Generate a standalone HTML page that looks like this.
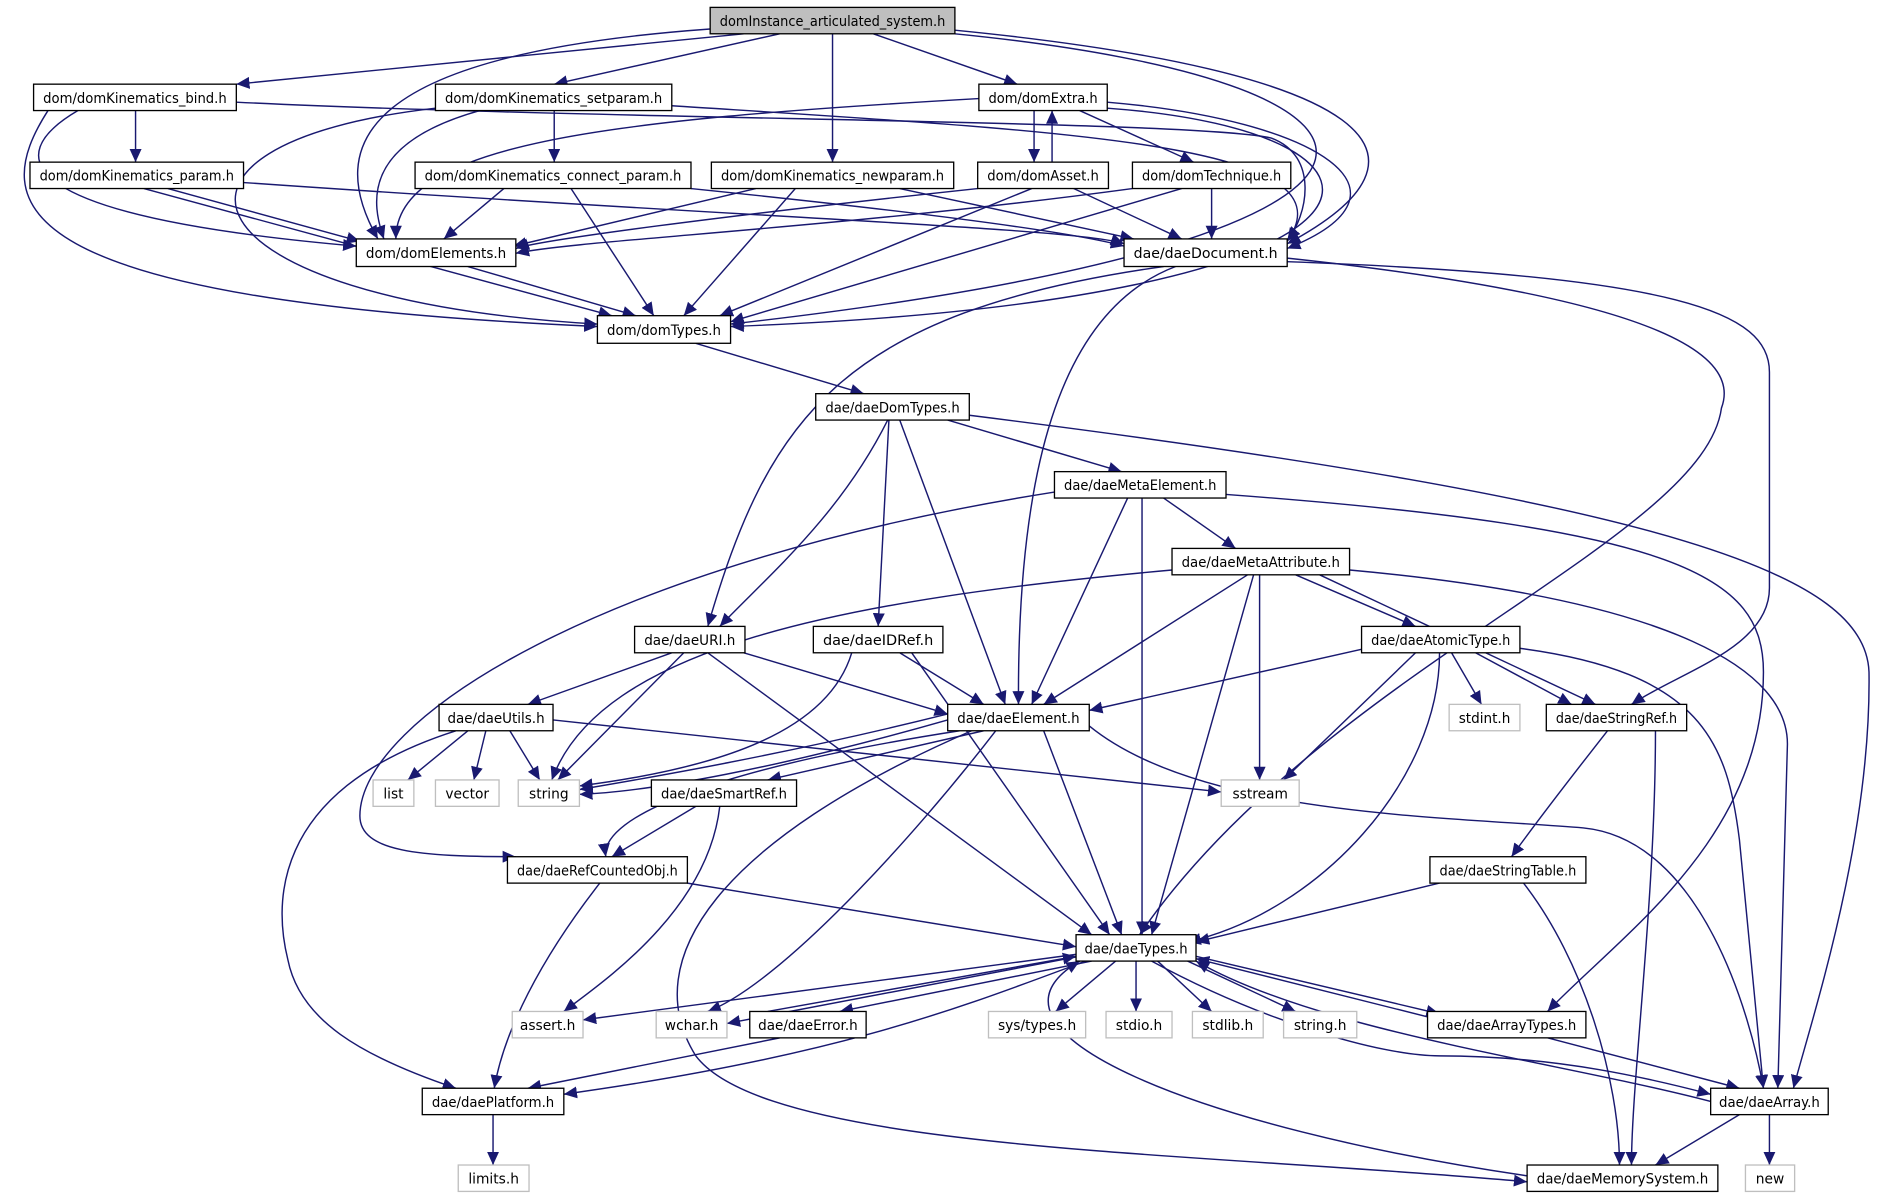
<!DOCTYPE html>
<html><head><meta charset="utf-8"><style>
html,body{margin:0;padding:0;background:#fff;}
svg{display:block;}
text{font-family:"DejaVu Sans","Liberation Sans",sans-serif;font-size:11.5px;fill:#000;}
.e{fill:none;stroke:#191970;stroke-width:1.2;marker-end:url(#a);}
.n{fill:#fff;stroke:#000;stroke-width:1.1;}
.g{fill:#fff;stroke:#bfbfbf;stroke-width:1.1;}
</style></head><body>
<svg width="1881" height="1200" viewBox="0 0 1568 1000" xmlns="http://www.w3.org/2000/svg">
<defs><marker id="a" markerUnits="userSpaceOnUse" markerWidth="12" markerHeight="10" refX="11" refY="5" orient="auto"><path d="M0,0 L11,5 L0,10 z" fill="#191970"/></marker></defs>
<g>
<path class="e" d="M620,28 L197,70"/>
<path class="e" d="M650,28 L462,70"/>
<path class="e" d="M728,28 L848,70"/>
<path class="e" d="M694,28 L694,135"/>
<path class="e" d="M592,24 C300,45 270,120 315,199"/>
<path class="e" d="M796,25 C1150,60 1210,130 1073,203"/>
<path class="e" d="M796,28 C1220,70 1230,200 609,270"/>
<path class="e" d="M113,92 L113,135"/>
<path class="e" d="M65,92 C0,130 10,180 297,205"/>
<path class="e" d="M40,92 C-10,170 0,250 498,272"/>
<path class="e" d="M197,85 C500,100 1000,100 1060,115 C1100,130 1090,180 1073,200"/>
<path class="e" d="M400,92 C300,120 310,170 320,199"/>
<path class="e" d="M363,90 C100,120 150,250 498,270"/>
<path class="e" d="M462,92 L462,135"/>
<path class="e" d="M560,88 C900,110 1130,120 1073,201"/>
<path class="e" d="M862,92 L862,135"/>
<path class="e" d="M877,135 L877,92"/>
<path class="e" d="M900,92 L995,135"/>
<path class="e" d="M816,82 C500,100 330,120 330,199"/>
<path class="e" d="M923,85 C1100,100 1190,160 1073,207"/>
<path class="e" d="M923,90 C1200,110 1200,250 609,272"/>
<path class="e" d="M140,157 L300,201"/>
<path class="e" d="M120,157 L510,263"/>
<path class="e" d="M203,152 C600,180 900,190 937,203"/>
<path class="e" d="M420,157 L370,199"/>
<path class="e" d="M476,157 L545,263"/>
<path class="e" d="M576,157 C800,180 900,195 937,205"/>
<path class="e" d="M630,157 L428,205"/>
<path class="e" d="M663,157 L570,263"/>
<path class="e" d="M750,157 L945,199"/>
<path class="e" d="M815,157 C600,180 450,200 430,207"/>
<path class="e" d="M860,157 L600,263"/>
<path class="e" d="M895,157 L985,199"/>
<path class="e" d="M944,157 C700,190 480,200 430,211"/>
<path class="e" d="M985,157 L609,268"/>
<path class="e" d="M1010,157 L1010,199"/>
<path class="e" d="M390,222 L530,263"/>
<path class="e" d="M970,222 C700,260 640,350 590,522"/>
<path class="e" d="M980,222 C880,260 848,400 849,587"/>
<path class="e" d="M1073,215 C1400,250 1450,300 1435,340 C1420,450 1100,560 950,779"/>
<path class="e" d="M1073,218 C1400,230 1475,260 1475,310 L1475,490 C1475,540 1400,560 1360,587"/>
<path class="e" d="M580,286 L720,328"/>
<path class="e" d="M790,350 L935,393"/>
<path class="e" d="M740,350 C700,430 640,480 600,522"/>
<path class="e" d="M741,350 L732,522"/>
<path class="e" d="M750,350 L838,587"/>
<path class="e" d="M808,346 C1400,420 1555,480 1558,560 C1560,700 1510,850 1495,907"/>
<path class="e" d="M970,415 L1030,457"/>
<path class="e" d="M879,410 C500,470 300,600 300,680 C300,710 350,714 430,714"/>
<path class="e" d="M940,415 L860,587"/>
<path class="e" d="M952,415 L952,779"/>
<path class="e" d="M1022,412 C1400,440 1470,480 1470,560 C1470,700 1350,780 1290,843"/>
<path class="e" d="M977,475 C700,500 500,540 460,650"/>
<path class="e" d="M1040,479 L870,587"/>
<path class="e" d="M1050,479 L1050,650"/>
<path class="e" d="M1045,479 L960,779"/>
<path class="e" d="M1080,479 L1180,522"/>
<path class="e" d="M1100,479 L1330,587"/>
<path class="e" d="M1125,475 C1400,500 1490,560 1490,620 L1482,907"/>
<path class="e" d="M560,544 L440,587"/>
<path class="e" d="M570,544 L465,650"/>
<path class="e" d="M620,544 L790,595"/>
<path class="e" d="M590,544 L910,779"/>
<path class="e" d="M710,544 C690,610 600,640 483,655"/>
<path class="e" d="M750,544 L820,587"/>
<path class="e" d="M760,544 L925,779"/>
<path class="e" d="M1140,540 L908,592"/>
<path class="e" d="M1180,544 L1070,650"/>
<path class="e" d="M1200,544 C1200,650 1100,760 990,785"/>
<path class="e" d="M1210,544 L1235,587"/>
<path class="e" d="M1230,544 L1310,587"/>
<path class="e" d="M1265,540 C1420,560 1440,620 1450,700 L1470,907"/>
<path class="e" d="M390,609 L340,650"/>
<path class="e" d="M405,609 L395,650"/>
<path class="e" d="M425,609 L450,650"/>
<path class="e" d="M461,600 L1018,660"/>
<path class="e" d="M380,609 C220,660 230,760 240,800 C250,850 300,880 380,907"/>
<path class="e" d="M790,595 C650,630 530,650 483,658"/>
<path class="e" d="M790,600 C650,640 540,660 483,662"/>
<path class="e" d="M800,609 C600,640 500,680 505,714"/>
<path class="e" d="M820,609 L640,650"/>
<path class="e" d="M870,609 L935,779"/>
<path class="e" d="M830,609 C760,700 650,820 590,843"/>
<path class="e" d="M810,609 C600,700 530,800 580,880 C640,960 1000,960 1273,985"/>
<path class="e" d="M908,605 C1000,680 1200,680 1320,690 C1420,700 1460,850 1470,907"/>
<path class="e" d="M580,672 L510,714"/>
<path class="e" d="M600,672 C590,760 500,820 470,843"/>
<path class="e" d="M573,736 L897,789"/>
<path class="e" d="M500,736 C450,800 420,860 412,907"/>
<path class="e" d="M1340,609 C1300,660 1270,700 1260,714"/>
<path class="e" d="M1380,609 C1380,750 1360,900 1360,971"/>
<path class="e" d="M1200,736 L997,785"/>
<path class="e" d="M1270,736 C1320,800 1350,900 1350,971"/>
<path class="e" d="M900,795 L486,850"/>
<path class="e" d="M900,797 L606,853"/>
<path class="e" d="M910,801 L700,843"/>
<path class="e" d="M640,843 L897,797"/>
<path class="e" d="M650,865 L440,907"/>
<path class="e" d="M930,801 L880,843"/>
<path class="e" d="M947,801 L947,843"/>
<path class="e" d="M965,801 L1010,843"/>
<path class="e" d="M990,801 L1080,843"/>
<path class="e" d="M997,797 L1200,845"/>
<path class="e" d="M1200,850 L997,799"/>
<path class="e" d="M1290,865 L1450,907"/>
<path class="e" d="M960,801 C1050,850 1150,880 1200,880 C1300,880 1380,900 1426,912"/>
<path class="e" d="M1426,918 C1300,885 1100,860 997,801"/>
<path class="e" d="M905,801 C800,840 700,880 470,912"/>
<path class="e" d="M1273,980 C1000,940 800,860 900,801"/>
<path class="e" d="M411,929 L411,971"/>
<path class="e" d="M1475,929 L1475,971"/>
<path class="e" d="M1450,929 L1380,971"/>
</g>
<g>
<rect x="592" y="6" width="204" height="22" fill="#bfbfbf" stroke="#000" stroke-width="1.1"/><text x="694" y="21.5" text-anchor="middle" textLength="188" lengthAdjust="spacingAndGlyphs">domInstance_articulated_system.h</text>
<rect class="n" x="28" y="70" width="169" height="22"/><text x="112.5" y="85.5" text-anchor="middle" textLength="153" lengthAdjust="spacingAndGlyphs">dom/domKinematics_bind.h</text>
<rect class="n" x="363" y="70" width="197" height="22"/><text x="461.5" y="85.5" text-anchor="middle" textLength="181" lengthAdjust="spacingAndGlyphs">dom/domKinematics_setparam.h</text>
<rect class="n" x="816" y="70" width="107" height="22"/><text x="869.5" y="85.5" text-anchor="middle" textLength="91" lengthAdjust="spacingAndGlyphs">dom/domExtra.h</text>
<rect class="n" x="25" y="135" width="178" height="22"/><text x="114" y="150.5" text-anchor="middle" textLength="162" lengthAdjust="spacingAndGlyphs">dom/domKinematics_param.h</text>
<rect class="n" x="346" y="135" width="230" height="22"/><text x="461" y="150.5" text-anchor="middle" textLength="214" lengthAdjust="spacingAndGlyphs">dom/domKinematics_connect_param.h</text>
<rect class="n" x="593" y="135" width="202" height="22"/><text x="694" y="150.5" text-anchor="middle" textLength="186" lengthAdjust="spacingAndGlyphs">dom/domKinematics_newparam.h</text>
<rect class="n" x="815" y="135" width="109" height="22"/><text x="869.5" y="150.5" text-anchor="middle" textLength="93" lengthAdjust="spacingAndGlyphs">dom/domAsset.h</text>
<rect class="n" x="944" y="135" width="132" height="22"/><text x="1010" y="150.5" text-anchor="middle" textLength="116" lengthAdjust="spacingAndGlyphs">dom/domTechnique.h</text>
<rect class="n" x="297" y="199" width="133" height="23"/><text x="363.5" y="215" text-anchor="middle" textLength="117" lengthAdjust="spacingAndGlyphs">dom/domElements.h</text>
<rect class="n" x="937" y="199" width="136" height="23"/><text x="1005" y="215" text-anchor="middle" textLength="120" lengthAdjust="spacingAndGlyphs">dae/daeDocument.h</text>
<rect class="n" x="498" y="263" width="111" height="23"/><text x="553.5" y="279" text-anchor="middle" textLength="95" lengthAdjust="spacingAndGlyphs">dom/domTypes.h</text>
<rect class="n" x="680" y="328" width="128" height="22"/><text x="744" y="343.5" text-anchor="middle" textLength="112" lengthAdjust="spacingAndGlyphs">dae/daeDomTypes.h</text>
<rect class="n" x="879" y="393" width="143" height="22"/><text x="950.5" y="408.5" text-anchor="middle" textLength="127" lengthAdjust="spacingAndGlyphs">dae/daeMetaElement.h</text>
<rect class="n" x="977" y="457" width="148" height="22"/><text x="1051" y="472.5" text-anchor="middle" textLength="132" lengthAdjust="spacingAndGlyphs">dae/daeMetaAttribute.h</text>
<rect class="n" x="529" y="522" width="92" height="22"/><text x="575" y="537.5" text-anchor="middle" textLength="76" lengthAdjust="spacingAndGlyphs">dae/daeURI.h</text>
<rect class="n" x="678" y="522" width="108" height="22"/><text x="732" y="537.5" text-anchor="middle" textLength="92" lengthAdjust="spacingAndGlyphs">dae/daeIDRef.h</text>
<rect class="n" x="1135" y="522" width="132" height="22"/><text x="1201" y="537.5" text-anchor="middle" textLength="116" lengthAdjust="spacingAndGlyphs">dae/daeAtomicType.h</text>
<rect class="n" x="366" y="587" width="95" height="22"/><text x="413.5" y="602.5" text-anchor="middle" textLength="81" lengthAdjust="spacingAndGlyphs">dae/daeUtils.h</text>
<rect class="n" x="790" y="587" width="118" height="22"/><text x="849" y="602.5" text-anchor="middle" textLength="102" lengthAdjust="spacingAndGlyphs">dae/daeElement.h</text>
<rect class="g" x="1208" y="587" width="59" height="22"/><text x="1237.5" y="602.5" text-anchor="middle" textLength="43" lengthAdjust="spacingAndGlyphs">stdint.h</text>
<rect class="n" x="1289" y="587" width="117" height="22"/><text x="1347.5" y="602.5" text-anchor="middle" textLength="101" lengthAdjust="spacingAndGlyphs">dae/daeStringRef.h</text>
<rect class="g" x="311" y="650" width="34" height="22"/><text x="328" y="665.5" text-anchor="middle">list</text>
<rect class="g" x="363" y="650" width="53" height="22"/><text x="389.5" y="665.5" text-anchor="middle">vector</text>
<rect class="g" x="432" y="650" width="51" height="22"/><text x="457.5" y="665.5" text-anchor="middle">string</text>
<rect class="g" x="1018" y="650" width="65" height="22"/><text x="1050.5" y="665.5" text-anchor="middle">sstream</text>
<rect class="n" x="543" y="650" width="121" height="22"/><text x="603.5" y="665.5" text-anchor="middle" textLength="105" lengthAdjust="spacingAndGlyphs">dae/daeSmartRef.h</text>
<rect class="n" x="423" y="714" width="150" height="22"/><text x="498" y="729.5" text-anchor="middle" textLength="134" lengthAdjust="spacingAndGlyphs">dae/daeRefCountedObj.h</text>
<rect class="n" x="1192" y="714" width="130" height="22"/><text x="1257" y="729.5" text-anchor="middle" textLength="114" lengthAdjust="spacingAndGlyphs">dae/daeStringTable.h</text>
<rect class="n" x="897" y="779" width="100" height="22"/><text x="947" y="794.5" text-anchor="middle" textLength="86" lengthAdjust="spacingAndGlyphs">dae/daeTypes.h</text>
<rect class="g" x="427" y="843" width="59" height="22"/><text x="456.5" y="858.5" text-anchor="middle">assert.h</text>
<rect class="g" x="547" y="843" width="59" height="22"/><text x="576.5" y="858.5" text-anchor="middle">wchar.h</text>
<rect class="n" x="625" y="843" width="97" height="22"/><text x="673.5" y="858.5" text-anchor="middle" textLength="83" lengthAdjust="spacingAndGlyphs">dae/daeError.h</text>
<rect class="g" x="824" y="843" width="81" height="22"/><text x="864.5" y="858.5" text-anchor="middle">sys/types.h</text>
<rect class="g" x="922" y="843" width="55" height="22"/><text x="949.5" y="858.5" text-anchor="middle">stdio.h</text>
<rect class="g" x="994" y="843" width="59" height="22"/><text x="1023.5" y="858.5" text-anchor="middle">stdlib.h</text>
<rect class="g" x="1070" y="843" width="61" height="22"/><text x="1100.5" y="858.5" text-anchor="middle">string.h</text>
<rect class="n" x="1190" y="843" width="132" height="22"/><text x="1256" y="858.5" text-anchor="middle" textLength="116" lengthAdjust="spacingAndGlyphs">dae/daeArrayTypes.h</text>
<rect class="n" x="352" y="907" width="118" height="22"/><text x="411" y="922.5" text-anchor="middle" textLength="102" lengthAdjust="spacingAndGlyphs">dae/daePlatform.h</text>
<rect class="n" x="1426" y="907" width="98" height="22"/><text x="1475" y="922.5" text-anchor="middle" textLength="84" lengthAdjust="spacingAndGlyphs">dae/daeArray.h</text>
<rect class="g" x="382" y="971" width="59" height="22"/><text x="411.5" y="986.5" text-anchor="middle">limits.h</text>
<rect class="g" x="1455" y="971" width="41" height="22"/><text x="1475.5" y="986.5" text-anchor="middle">new</text>
<rect class="n" x="1273" y="971" width="159" height="22"/><text x="1352.5" y="986.5" text-anchor="middle" textLength="143" lengthAdjust="spacingAndGlyphs">dae/daeMemorySystem.h</text>
</g>
</svg>
</body></html>
